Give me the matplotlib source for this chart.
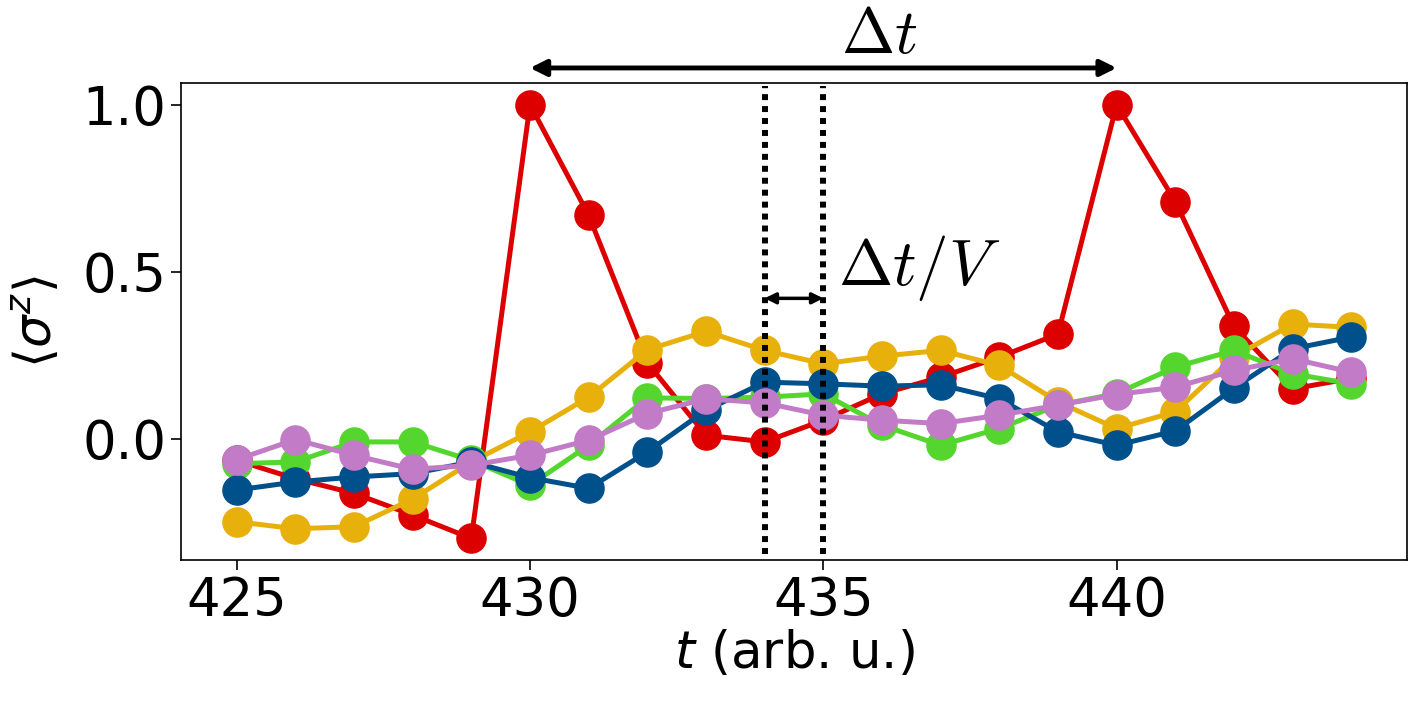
import matplotlib
matplotlib.use("Agg")
import matplotlib.pyplot as plt
import numpy as np

t = list(range(425, 445))

red = [-0.065, -0.12, -0.164, -0.229, -0.299, 1.0, 0.669, 0.227, 0.01, -0.01,
       0.055, 0.134, 0.184, 0.244, 0.313, 1.0, 0.71, 0.336, 0.149, 0.18]
yellow = [-0.249, -0.27, -0.264, -0.181, -0.07, 0.02, 0.124, 0.266, 0.321, 0.264,
          0.224, 0.247, 0.264, 0.219, 0.11, 0.03, 0.08, 0.245, 0.343, 0.333]
green = [-0.075, -0.07, -0.01, -0.01, -0.065, -0.14, -0.02, 0.122, 0.12, 0.124,
         0.134, 0.04, -0.02, 0.03, 0.1, 0.135, 0.214, 0.264, 0.194, 0.164]
blue = [-0.154, -0.13, -0.115, -0.105, -0.07, -0.117, -0.149, -0.04, 0.085, 0.169,
        0.164, 0.157, 0.161, 0.119, 0.02, -0.02, 0.023, 0.151, 0.269, 0.304]
purple = [-0.063, -0.003, -0.05, -0.092, -0.08, -0.05, -0.005, 0.075, 0.119, 0.107,
          0.07, 0.055, 0.045, 0.07, 0.1, 0.132, 0.154, 0.204, 0.239, 0.199]

series = [(red, "#dd0000"), (yellow, "#e8b00a"), (green, "#55d62f"),
          (blue, "#00508c"), (purple, "#c27bc6")]

fig = plt.figure(figsize=(14.27, 7.01), dpi=100)
ax = fig.add_axes([0.1268, 0.201, 0.8592, 0.6806])

for vals, c in series:
    ax.plot(t, vals, "-o", color=c, lw=3.6, markersize=21)

ax.set_xticks([425, 430, 435, 440])
ax.set_yticks([0.0, 0.5, 1.0])
ax.tick_params(labelsize=38, length=7, width=1.2)
for s in ax.spines.values():
    s.set_linewidth(1.2)
ax.set_xlabel(r"$t$ (arb. u.)", fontsize=37, labelpad=2)
ax.set_ylabel(r"$\langle\sigma^z\rangle$", fontsize=37, labelpad=14)

ylo, yhi = ax.get_ylim()
for xv in [434, 435]:
    ax.plot([xv, xv], [-0.345, 1.055], color="black", lw=4.3,
            linestyle=(0, (1, 1)), zorder=5)

ax.annotate("", xy=(430, 1.11), xytext=(440, 1.11), xycoords="data",
            arrowprops=dict(arrowstyle="<|-|>", color="black", lw=3.5,
                            mutation_scale=24, shrinkA=0, shrinkB=0),
            annotation_clip=False)
ax.text(435.95, 1.21, r"$\Delta t$", fontsize=46, ha="center", va="center",
        math_fontfamily="cm", clip_on=False)

ax.annotate("", xy=(434, 0.42), xytext=(435, 0.42), xycoords="data",
            arrowprops=dict(arrowstyle="<|-|>", color="black", lw=2.5,
                            mutation_scale=16, shrinkA=0, shrinkB=0),
            zorder=6)
ax.text(435.25, 0.51, r"$\Delta t/V$", fontsize=47, ha="left", va="center",
        math_fontfamily="cm")

ax.set_ylim(ylo, yhi)
fig.savefig("out.png", dpi=100)
